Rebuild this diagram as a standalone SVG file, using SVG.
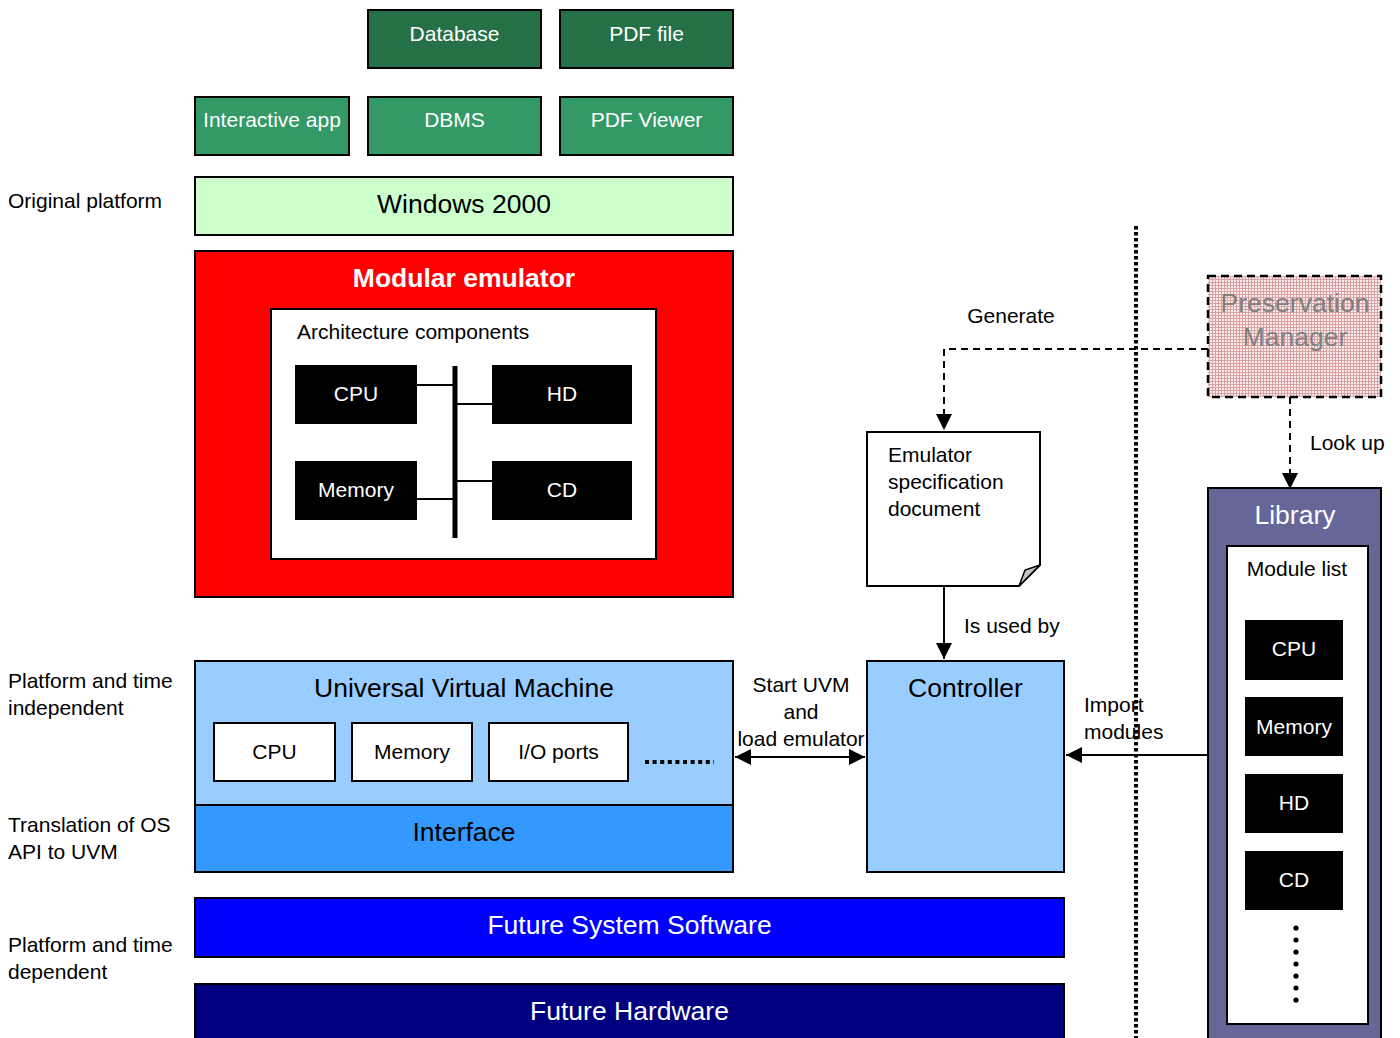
<svg xmlns="http://www.w3.org/2000/svg" width="1400" height="1038" viewBox="0 0 1400 1038">
  <style>
    text { font-family: "Liberation Sans", Arial, sans-serif; }
    .box { stroke: #000; stroke-width: 2; }
    .s21 { font-size: 21px; }
    .s26 { font-size: 26.5px; }
    .c { text-anchor: middle; }
    .w { fill: #fff; }
    .k { fill: #000; }
    .blk { fill: #000; }
    .wire { stroke: #000; stroke-width: 2; fill: none; }
    .dash { stroke: #000; stroke-width: 2; fill: none; stroke-dasharray: 7 5; }
  </style>
  <defs>
    <marker id="arrB" viewBox="0 0 10 10" refX="10" refY="5" markerWidth="16" markerHeight="16" markerUnits="userSpaceOnUse" orient="auto-start-reverse">
      <path d="M0,0 L10,5 L0,10 z" fill="#000"/>
    </marker>
    <pattern id="grid" width="3" height="3" patternUnits="userSpaceOnUse">
      <rect width="3" height="3" fill="#f6eeee"/>
      <path d="M0,0.5 H3 M0.5,0 V3" stroke="#dba0a0" stroke-width="1"/>
    </pattern>
  </defs>

  <!-- side labels -->
  <g id="labels" class="s21 k">
    <text x="8" y="207.5">Original platform</text>
    <text x="8" y="687.5">Platform and time</text>
    <text x="8" y="714.5">independent</text>
    <text x="8" y="831.5">Translation of OS</text>
    <text x="8" y="858.5">API to UVM</text>
    <text x="8" y="951.5">Platform and time</text>
    <text x="8" y="978.5">dependent</text>
  </g>

  <!-- applications on the original platform -->
  <g id="database"><rect class="box" x="368" y="10" width="173" height="58" fill="#267048"/><text class="s21 c w" x="454.5" y="40.5">Database</text></g>
  <g id="pdf-file"><rect class="box" x="560" y="10" width="173" height="58" fill="#267048"/><text class="s21 c w" x="646.5" y="40.5">PDF file</text></g>
  <g id="interactive-app"><rect class="box" x="195" y="97" width="154" height="58" fill="#339966"/><text class="s21 c w" x="272" y="126.5">Interactive app</text></g>
  <g id="dbms"><rect class="box" x="368" y="97" width="173" height="58" fill="#339966"/><text class="s21 c w" x="454.5" y="126.5">DBMS</text></g>
  <g id="pdf-viewer"><rect class="box" x="560" y="97" width="173" height="58" fill="#339966"/><text class="s21 c w" x="646.5" y="126.5">PDF Viewer</text></g>
  <g id="windows-2000"><rect class="box" x="195" y="177" width="538" height="58" fill="#ccffcc"/><text class="s26 c k" x="464" y="213">Windows 2000</text></g>

  <!-- modular emulator -->
  <g id="modular-emulator">
    <rect class="box" x="195" y="251" width="538" height="346" fill="#ff0000"/>
    <text class="s26 c w" x="464" y="287" font-weight="bold">Modular emulator</text>
    <rect class="box" x="271" y="309" width="385" height="250" fill="#fff"/>
    <text class="s21 k" x="297" y="338.5">Architecture components</text>
    <line x1="455" y1="366" x2="455" y2="538" stroke="#000" stroke-width="5"/>
    <line x1="417" y1="385" x2="455" y2="385" stroke="#000" stroke-width="2"/>
    <line x1="455" y1="404" x2="492" y2="404" stroke="#000" stroke-width="2"/>
    <line x1="455" y1="481" x2="492" y2="481" stroke="#000" stroke-width="2"/>
    <line x1="417" y1="499" x2="455" y2="499" stroke="#000" stroke-width="2"/>
    <rect class="blk" x="295" y="365" width="122" height="59"/><text class="s21 c w" x="356" y="401">CPU</text>
    <rect class="blk" x="492" y="365" width="140" height="59"/><text class="s21 c w" x="562" y="401">HD</text>
    <rect class="blk" x="295" y="461" width="122" height="59"/><text class="s21 c w" x="356" y="497">Memory</text>
    <rect class="blk" x="492" y="461" width="140" height="59"/><text class="s21 c w" x="562" y="497">CD</text>
  </g>

  <!-- universal virtual machine and interface -->
  <g id="uvm">
    <rect class="box" x="195" y="661" width="538" height="144" fill="#99ccff"/>
    <text class="s26 c k" x="464" y="697">Universal Virtual Machine</text>
    <rect class="box" x="214" y="723" width="121" height="58" fill="#fff"/><text class="s21 c k" x="274.5" y="759">CPU</text>
    <rect class="box" x="352" y="723" width="120" height="58" fill="#fff"/><text class="s21 c k" x="412" y="759">Memory</text>
    <rect class="box" x="489" y="723" width="139" height="58" fill="#fff"/><text class="s21 c k" x="558.5" y="759">I/O ports</text>
    <line x1="645" y1="762" x2="714" y2="762" stroke="#000" stroke-width="4" stroke-dasharray="4 3.6"/>
  </g>
  <g id="interface">
    <rect class="box" x="195" y="805" width="538" height="67" fill="#3399ff"/>
    <text class="s26 c k" x="464" y="841">Interface</text>
  </g>

  <!-- future platform -->
  <g id="future-system-software">
    <rect class="box" x="195" y="898" width="869" height="59" fill="#0000ff"/>
    <text class="s26 c w" x="629.5" y="934">Future System Software</text>
  </g>
  <g id="future-hardware">
    <rect class="box" x="195" y="984" width="869" height="60" fill="#000080"/>
    <text class="s26 c w" x="629.5" y="1020">Future Hardware</text>
  </g>

  <!-- emulator specification document -->
  <g id="spec-document">
    <path class="box" d="M867,432 H1040 V565 L1019,586 H867 Z" fill="#fff"/>
    <path d="M1019,586 L1025,570 L1040,565 Z" fill="#c0c0c0" stroke="#000" stroke-width="1.5"/>
    <text class="s21 k" x="888" y="461.5">Emulator</text>
    <text class="s21 k" x="888" y="488.5">specification</text>
    <text class="s21 k" x="888" y="515.5">document</text>
  </g>

  <!-- controller -->
  <g id="controller">
    <rect class="box" x="867" y="661" width="197" height="211" fill="#99ccff"/>
    <text class="s26 c k" x="965.5" y="697">Controller</text>
  </g>

  <!-- preservation manager -->
  <g id="preservation-manager">
    <rect x="1208" y="276" width="173" height="121" fill="url(#grid)" stroke="#000" stroke-width="2.5" stroke-dasharray="8 5"/>
    <text class="s26 c" x="1295" y="312" fill="#808080">Preservation</text>
    <text class="s26 c" x="1295" y="346" fill="#808080">Manager</text>
  </g>

  <!-- library -->
  <g id="library">
    <rect class="box" x="1208" y="488" width="173" height="560" fill="#666699"/>
    <text class="s26 c w" x="1295" y="524">Library</text>
    <rect class="box" x="1227" y="546" width="141" height="478" fill="#fff"/>
    <text class="s21 c k" x="1297" y="575.5">Module list</text>
    <rect class="blk" x="1245" y="620" width="98" height="60"/><text class="s21 c w" x="1294" y="656">CPU</text>
    <rect class="blk" x="1245" y="697" width="98" height="59"/><text class="s21 c w" x="1294" y="734">Memory</text>
    <rect class="blk" x="1245" y="774" width="98" height="59"/><text class="s21 c w" x="1294" y="810">HD</text>
    <rect class="blk" x="1245" y="851" width="98" height="59"/><text class="s21 c w" x="1294" y="887">CD</text>
    <g fill="#000">
      <circle cx="1296" cy="928" r="2.6"/><circle cx="1296" cy="940" r="2.6"/><circle cx="1296" cy="952" r="2.6"/>
      <circle cx="1296" cy="964" r="2.6"/><circle cx="1296" cy="976" r="2.6"/><circle cx="1296" cy="988" r="2.6"/>
      <circle cx="1296" cy="1000" r="2.6"/>
    </g>
  </g>

  <!-- connectors -->
  <g id="connectors">
    <line x1="1136" y1="226" x2="1136" y2="1038" stroke="#000" stroke-width="4" stroke-dasharray="3.5 2.5"/>
    <path class="dash" d="M1208,349 H944 V430" marker-end="url(#arrB)"/>
    <path class="dash" d="M1290,397 V489" marker-end="url(#arrB)"/>
    <path class="wire" d="M944,586 V659" marker-end="url(#arrB)"/>
    <path class="wire" d="M735,757 H865" marker-start="url(#arrB)" marker-end="url(#arrB)"/>
    <path class="wire" d="M1208,755 H1066" marker-end="url(#arrB)"/>
    <g class="s21 k">
      <text class="c" x="1011" y="322.5">Generate</text>
      <text x="1310" y="449.5">Look up</text>
      <text x="964" y="632.5">Is used by</text>
      <text class="c" x="801" y="691.5">Start UVM</text>
      <text class="c" x="801" y="718.5">and</text>
      <text class="c" x="801" y="745.5">load emulator</text>
      <text x="1084" y="711.5">Import</text>
      <text x="1084" y="738.5">modules</text>
    </g>
  </g>
</svg>
